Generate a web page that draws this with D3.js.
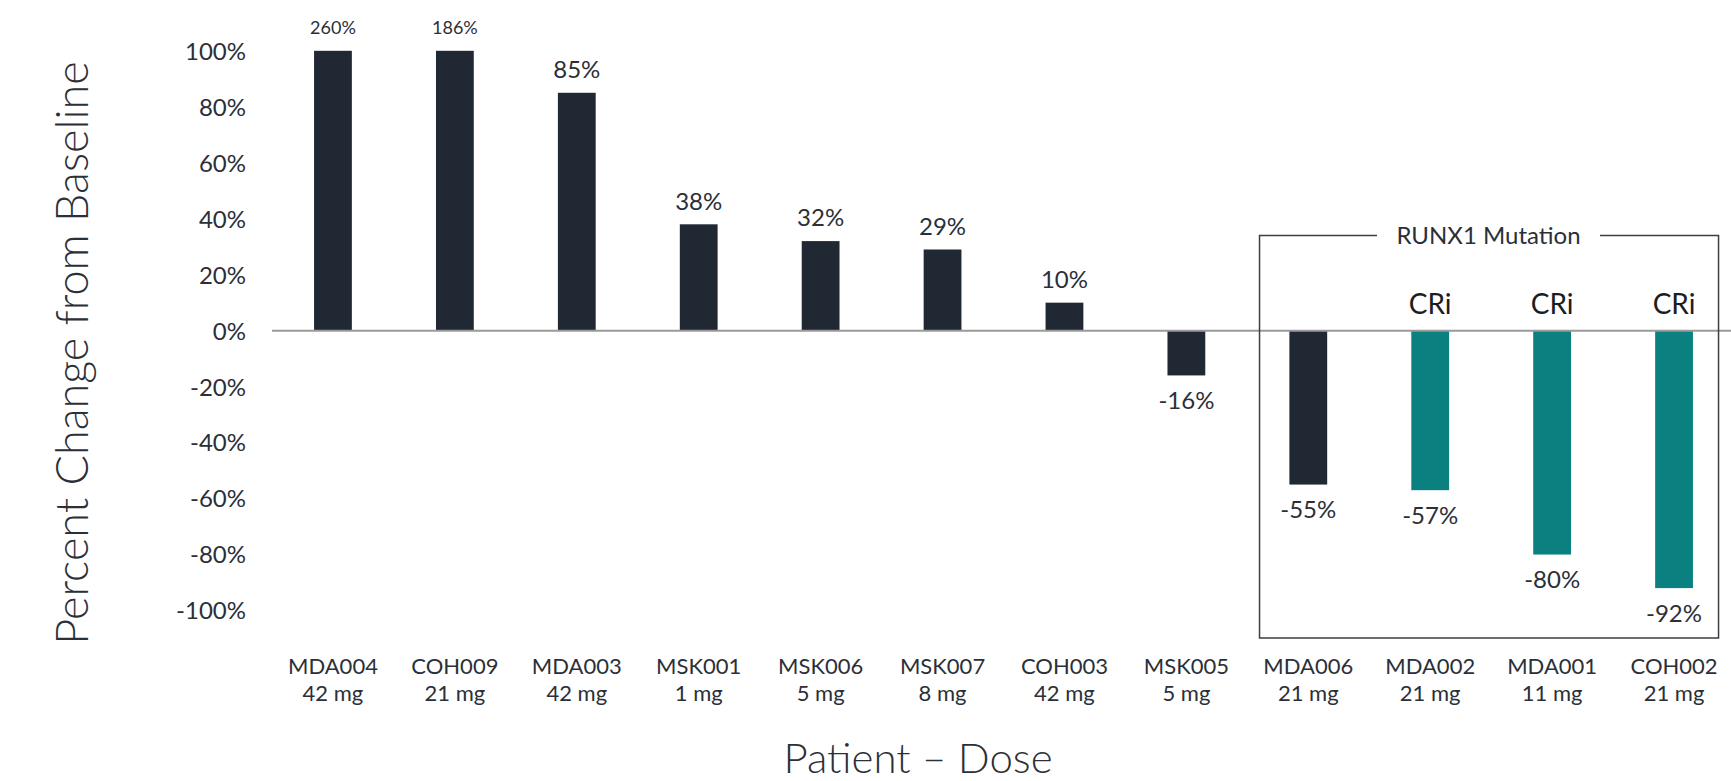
<!DOCTYPE html>
<html>
<head>
<meta charset="utf-8">
<script src="https://cdn.jsdelivr.net/npm/d3@7"></script>
<style>
  body { margin: 0; background: #fff; }
  text { font-family: Lato, "Noto Sans", sans-serif; fill: #2b3038; }
</style>
</head>
<body>
<div class="chart"></div>
<script>
// data
var patients = ["MDA004", "COH009", "MDA003", "MSK001", "MSK006", "MSK007", "COH003", "MSK005", "MDA006", "MDA002", "MDA001", "COH002"];
var doses = ["42 mg", "21 mg", "42 mg", "1 mg", "5 mg", "8 mg", "42 mg", "5 mg", "21 mg", "21 mg", "11 mg", "21 mg"];
// plotted heights (the two largest are clipped at 100%)
var plotted = [100, 100, 85, 38, 32, 29, 10, -16, -55, -57, -80, -92];
// the actual values written on the bars
var labels = ["260%", "186%", "85%", "38%", "32%", "29%", "10%", "-16%", "-55%", "-57%", "-80%", "-92%"];
var responses = ["", "", "", "", "", "", "", "", "", "CRi", "CRi", "CRi"];
var runx1 = ["MDA006", "MDA002", "MDA001", "COH002"];
var yTicks = [100, 80, 60, 40, 20, 0, -20, -40, -60, -80, -100];

var svgWidth = 1731;
var svgHeight = 781;

var svg = d3.select(".chart")
  .append("svg")
  .attr("width", svgWidth)
  .attr("height", svgHeight);

//scales
var x = d3.scaleBand()
  .domain(patients)
  .range([272, 1735])
  .paddingInner(0.69)
  .paddingOuter(0.345);

var y = d3.scaleLinear()
  .domain([-100, 100])
  .range([610.5, 50.8]);

var navy = "#1f2833";
var teal = "#0a8080";

//y axis, no line, just labels
var leftAxis = d3.axisLeft(y)
  .tickValues(yTicks)
  .tickSize(0)
  .tickPadding(0)
  .tickFormat(d => d + "%");

var yAxis = svg.append("g")
  .attr("transform", "translate(246, 0)")
  .call(leftAxis);
yAxis.select(".domain").remove();
yAxis.selectAll("text")
  .style("font-size", "24px")
  .style("font-family", "Lato, sans-serif")
  .attr("fill", "#2b3038")
  .attr("dy", "0.35em");

//bars
svg.selectAll("rect.bar")
  .data(patients)
  .enter()
  .append("rect")
  .classed("bar", true)
  .attr("x", d => x(d))
  .attr("width", x.bandwidth())
  .attr("y", (d, i) => y(Math.max(0, plotted[i])))
  .attr("height", (d, i) => Math.abs(y(plotted[i]) - y(0)))
  .attr("fill", (d, i) => responses[i] === "CRi" ? teal : navy);

//zero line
svg.append("line")
  .attr("x1", 272)
  .attr("x2", svgWidth)
  .attr("y1", y(0))
  .attr("y2", y(0))
  .attr("stroke", "#9a9a9a")
  .attr("stroke-width", 2);

//value labels
svg.selectAll("text.value")
  .data(patients)
  .enter()
  .append("text")
  .classed("value", true)
  .attr("x", d => x(d) + x.bandwidth() / 2)
  .attr("y", (d, i) => plotted[i] >= 0 ? y(plotted[i]) - 23 : y(plotted[i]) + 25)
  .attr("dy", "0.35em")
  .attr("text-anchor", "middle")
  .style("font-size", (d, i) => plotted[i] >= 100 ? "18px" : "24px")
  .text((d, i) => labels[i]);

//CRi labels
svg.selectAll("text.resp")
  .data(patients.filter((d, i) => responses[i] !== ""))
  .enter()
  .append("text")
  .classed("resp", true)
  .attr("x", d => x(d) + x.bandwidth() / 2)
  .attr("y", y(0) - 17)
  .attr("text-anchor", "middle")
  .style("font-size", "28px")
  .style("fill", "#1a1d22")
  .text(d => responses[patients.indexOf(d)]);

//x category labels
var xLabels = svg.selectAll("text.cat")
  .data(patients)
  .enter()
  .append("text")
  .classed("cat", true)
  .attr("x", d => x(d) + x.bandwidth() / 2)
  .attr("y", 674)
  .attr("text-anchor", "middle")
  .style("font-size", "22px");
xLabels.append("tspan")
  .attr("x", d => x(d) + x.bandwidth() / 2)
  .text(d => d);
xLabels.append("tspan")
  .attr("x", d => x(d) + x.bandwidth() / 2)
  .attr("dy", 27)
  .text((d, i) => doses[i]);

//RUNX1 box
var step = x.step();
var boxLeft = x(runx1[0]) + x.bandwidth() / 2 - 0.4 * step;
var boxRight = x(runx1[runx1.length - 1]) + x.bandwidth() / 2 + 0.365 * step;
var boxTop = 235.5;
var boxBottom = 638;
var gapL = 1377, gapR = 1600;

var box = svg.append("path")
  .attr("d", `M${gapL},${boxTop} H${boxLeft} V${boxBottom} H${boxRight} V${boxTop} H${gapR}`)
  .attr("fill", "none")
  .attr("stroke", "#3a3f46")
  .attr("stroke-width", 1.5);

svg.append("text")
  .attr("x", (gapL + gapR) / 2)
  .attr("y", 243.5)
  .attr("text-anchor", "middle")
  .style("font-size", "24px")
  .text("RUNX1 Mutation");

//axis titles
svg.append("text")
  .attr("transform", `translate(72, 353) rotate(-90)`)
  .attr("text-anchor", "middle")
  .attr("dy", "0.35em")
  .style("font-size", "45px")
  .style("font-weight", 300)
  .text("Percent Change from Baseline");

svg.append("text")
  .attr("x", 918)
  .attr("y", 773)
  .attr("text-anchor", "middle")
  .style("font-size", "42px")
  .style("font-weight", 300)
  .text("Patient \u2013 Dose");
</script>
</body>
</html>
